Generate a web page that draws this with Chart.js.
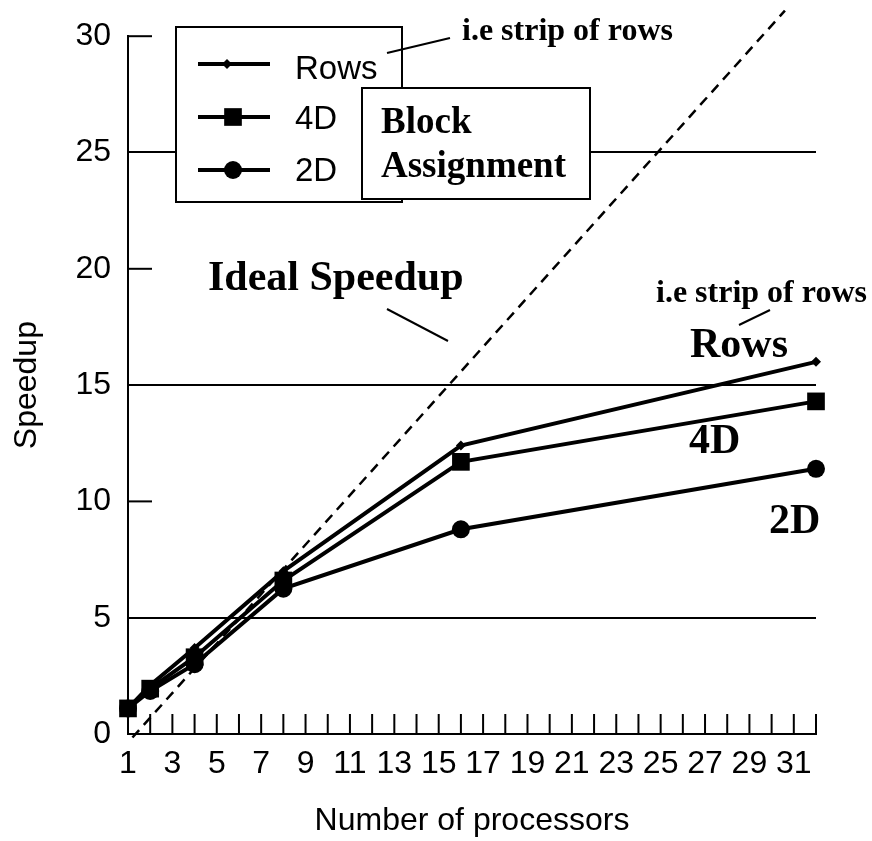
<!DOCTYPE html>
<html>
<head>
<meta charset="utf-8">
<script src="https://cdn.jsdelivr.net/npm/chart.js@4.4.0/dist/chart.umd.min.js"></script>
<style>
  html, body { margin: 0; padding: 0; background: #fff; }
  #wrap { width: 872px; height: 841px; }
</style>
</head>
<body>
<div id="wrap"><canvas id="speedupChart" width="872" height="841"></canvas></div>
<script>
// processor counts and measured speedups
const processors = [1, 2, 4, 8, 16, 32];
const rowsSpeedup = [1.1, 2.1, 3.7, 7.0, 12.4, 16.0];
const block4dSpeedup = [1.1, 1.95, 3.3, 6.6, 11.7, 14.3];
const block2dSpeedup = [1.1, 1.85, 3.0, 6.25, 8.8, 11.4];

// ideal speedup guide, end points as drawn
const idealX = [1.2, 30.6];
const idealY = [-0.15, 31.1];

const xMin = 1, xMax = 32;
const yMin = 0, yMax = 30, yStep = 5;
const fullGridValues = [5, 15, 25];
const seriesNames = ['Rows', '4D', '2D'];

const SANS = 'Liberation Sans, Arial, sans-serif';
const SERIF = 'Liberation Serif, Times New Roman, serif';

function toPoints(xs, ys) {
    return xs.map((x, i) => ({ x: x, y: ys[i] }));
}

function drawMarker(ctx, style, r, px, py) {
    ctx.beginPath();
    if (style === 'rect') {
        const s = Math.SQRT1_2 * r;
        ctx.rect(px - s, py - s, 2 * s, 2 * s);
    } else if (style === 'rectRot') {
        ctx.moveTo(px, py - r);
        ctx.lineTo(px + r, py);
        ctx.lineTo(px, py + r);
        ctx.lineTo(px - r, py);
        ctx.closePath();
    } else {
        ctx.arc(px, py, r, 0, Math.PI * 2);
    }
    ctx.fill();
}

// inner tick marks, legend box and the text notes
const decorations = {
    id: 'decorations',
    beforeDatasetsDraw(chart) {
        const { ctx, scales: { x, y } } = chart;
        ctx.save();
        ctx.strokeStyle = '#000';
        ctx.lineWidth = 2;
        y.ticks.forEach(t => {
            if (t.value === yMin || fullGridValues.includes(t.value)) return;
            const py = y.getPixelForValue(t.value);
            ctx.beginPath();
            ctx.moveTo(x.left, py);
            ctx.lineTo(x.left + 24, py);
            ctx.stroke();
        });
        x.ticks.forEach(t => {
            if (t.value === xMin) return;
            const px = x.getPixelForValue(t.value);
            ctx.beginPath();
            ctx.moveTo(px, y.bottom);
            ctx.lineTo(px, y.bottom - 20);
            ctx.stroke();
        });
        ctx.restore();
    },
    afterDraw(chart) {
        const ctx = chart.ctx;
        ctx.save();

        // legend
        ctx.fillStyle = '#fff';
        ctx.strokeStyle = '#000';
        ctx.lineWidth = 2;
        ctx.fillRect(176, 27, 226, 175);
        ctx.strokeRect(176, 27, 226, 175);
        const rowY = [64, 117, 170];
        const baseY = [79, 129, 181];
        const markX = [227, 233, 233];
        chart.data.datasets.slice(0, 3).forEach((ds, i) => {
            ctx.strokeStyle = ds.borderColor;
            ctx.lineWidth = ds.borderWidth;
            ctx.beginPath();
            ctx.moveTo(198, rowY[i]);
            ctx.lineTo(270, rowY[i]);
            ctx.stroke();
            ctx.fillStyle = ds.backgroundColor;
            drawMarker(ctx, ds.pointStyle, ds.pointRadius, markX[i], rowY[i]);
            ctx.fillStyle = '#000';
            ctx.font = '33px ' + SANS;
            ctx.textAlign = 'left';
            ctx.textBaseline = 'alphabetic';
            ctx.fillText(seriesNames[i], 295, baseY[i]);
        });

        // block assignment box
        ctx.fillStyle = '#fff';
        ctx.strokeStyle = '#000';
        ctx.lineWidth = 2;
        ctx.fillRect(362, 88, 228, 111);
        ctx.strokeRect(362, 88, 228, 111);
        ctx.fillStyle = '#000';
        ctx.font = 'bold 37px ' + SERIF;
        ctx.fillText('Block', 381, 133);
        ctx.fillText('Assignment', 381, 177);

        // notes
        ctx.font = 'bold 32px ' + SERIF;
        ctx.fillText('i.e strip of rows', 462, 40);
        ctx.fillText('i.e strip of rows', 656, 302);
        ctx.font = 'bold 42px ' + SERIF;
        ctx.fillText('Ideal Speedup', 208, 290);
        ctx.fillText('Rows', 690, 357);
        ctx.fillText('4D', 689, 453);
        ctx.fillText('2D', 769, 533);

        ctx.lineWidth = 2;
        const leaders = [[387, 53, 450, 38], [387, 309, 448, 341], [770, 310, 739, 325]];
        leaders.forEach(l => {
            ctx.beginPath();
            ctx.moveTo(l[0], l[1]);
            ctx.lineTo(l[2], l[3]);
            ctx.stroke();
        });
        ctx.restore();
    }
};

const speedupCtx = document.getElementById('speedupChart').getContext('2d');
new Chart(speedupCtx, {
    type: 'line',
    data: {
        datasets: [{
            label: seriesNames[0],
            data: toPoints(processors, rowsSpeedup),
            borderColor: '#000',
            backgroundColor: '#000',
            borderWidth: 4,
            pointStyle: 'rectRot',
            pointRadius: 5,
            pointBorderWidth: 0,
            clip: false,
        }, {
            label: seriesNames[1],
            data: toPoints(processors, block4dSpeedup),
            borderColor: '#000',
            backgroundColor: '#000',
            borderWidth: 4,
            pointStyle: 'rect',
            pointRadius: 12.5,
            pointBorderWidth: 0,
            clip: false,
        }, {
            label: seriesNames[2],
            data: toPoints(processors, block2dSpeedup),
            borderColor: '#000',
            backgroundColor: '#000',
            borderWidth: 4,
            pointStyle: 'circle',
            pointRadius: 9,
            pointBorderWidth: 0,
            clip: false,
        }, {
            label: 'Ideal Speedup',
            data: toPoints(idealX, idealY),
            borderColor: '#000',
            borderWidth: 2.5,
            borderDash: [10, 7],
            pointRadius: 0,
            clip: false,
        }],
    },
    options: {
        responsive: false,
        animation: false,
        layout: {
            padding: { top: 31, right: 56, left: 0, bottom: 0 },
        },
        plugins: {
            legend: { display: false },
            tooltip: { enabled: false },
        },
        scales: {
            x: {
                type: 'linear',
                min: xMin,
                max: xMax,
                ticks: {
                    stepSize: 1,
                    autoSkip: false,
                    maxRotation: 0,
                    padding: 11,
                    color: '#000',
                    font: { family: SANS, size: 32 },
                    callback: v => (v % 2 === 1 ? String(v) : ''),
                },
                grid: { display: false, drawTicks: false },
                border: { color: '#000', width: 2 },
                title: {
                    display: true,
                    text: 'Number of processors',
                    color: '#000',
                    font: { family: SANS, size: 32 },
                    padding: { top: 0, bottom: 1 },
                },
                afterFit: s => { s.height = 107; },
            },
            y: {
                min: yMin,
                max: yMax,
                ticks: {
                    stepSize: yStep,
                    padding: 17,
                    color: '#000',
                    font: { family: SANS, size: 32 },
                },
                grid: {
                    drawTicks: false,
                    lineWidth: 2,
                    color: c => (c.tick && fullGridValues.includes(c.tick.value) ? '#000' : 'rgba(0,0,0,0)'),
                },
                border: { color: '#000', width: 2 },
                title: {
                    display: true,
                    text: 'Speedup',
                    color: '#000',
                    font: { family: SANS, size: 32 },
                    padding: { top: 8, bottom: 0 },
                },
                afterFit: s => { s.width = 128; },
            },
        },
    },
    plugins: [decorations],
});
</script>
</body>
</html>
